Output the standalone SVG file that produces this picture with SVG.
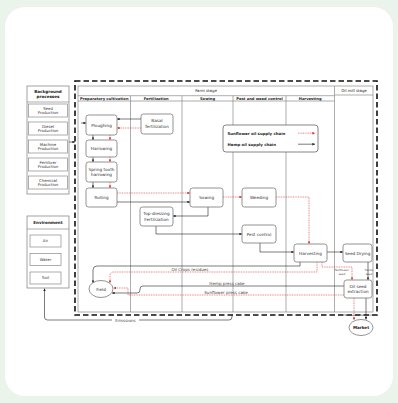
<svg xmlns="http://www.w3.org/2000/svg" width="398" height="403" viewBox="0 0 398 403">
  <style>
    text { font-family: "DejaVu Sans", Verdana, sans-serif; fill: #333; text-anchor: middle; }
    .n { font-size: 4.2px; }
    .h { font-size: 3.7px; font-weight: bold; fill: #222; }
    .st { font-size: 3.9px; fill: #222; }
    .b { font-size: 4.1px; font-weight: bold; fill: #222; }
    .bl { font-size: 3.9px; }
    .lb { font-size: 4.1px; fill: #444; }
    .sm { font-size: 2.8px; fill: #444; }
    .lg { font-size: 3.9px; font-weight: bold; fill: #222; text-anchor: start; }
    .nd { fill: #fff; stroke: #777; stroke-width: 0.8; }
    .bx { fill: #fff; stroke: #8a8a8a; stroke-width: 0.7; }
    .ob { fill: #fff; stroke: #8a8a8a; stroke-width: 0.8; }
    .grid { stroke: #8a8a8a; stroke-width: 0.7; fill: none; }
    .hemp { fill: none; stroke: #222; stroke-width: 0.6; }
    .sun { fill: none; stroke: #d42020; stroke-width: 0.6; stroke-dasharray: 0.9 0.8; }
  </style>
  <defs>
    <marker id="ab" viewBox="0 0 6 6" refX="6" refY="3" markerWidth="2.6" markerHeight="2.6" markerUnits="userSpaceOnUse" orient="auto">
      <path d="M0,0 L6,3 L0,6 z" fill="#222"/>
    </marker>
    <marker id="ar" viewBox="0 0 6 6" refX="6" refY="3" markerWidth="2.6" markerHeight="2.6" markerUnits="userSpaceOnUse" orient="auto">
      <path d="M0,0 L6,3 L0,6 z" fill="#d42020"/>
    </marker>
  </defs>

  <!-- card -->
  <rect x="0" y="0" width="398" height="403" fill="#eaf4ea"/>
  <rect x="5" y="7" width="388" height="389" rx="20" fill="#fff"/>

  <!-- background processes -->
  <g id="background">
    <rect class="ob" x="27" y="86" width="42" height="108"/>
    <line class="grid" x1="27" y1="102" x2="69" y2="102"/>
    <text class="b" x="48" y="92.5">Background</text>
    <text class="b" x="48" y="98.3">processes</text>
    <rect class="bx" x="28.5" y="104" width="39" height="13"/>
    <text class="bl" x="48" y="109.6">Seed</text><text class="bl" x="48" y="114.4">Production</text>
    <rect class="bx" x="28.5" y="122" width="39" height="13"/>
    <text class="bl" x="48" y="127.6">Diesel</text><text class="bl" x="48" y="132.4">Production</text>
    <rect class="bx" x="28.5" y="140" width="39" height="13"/>
    <text class="bl" x="48" y="145.6">Machine</text><text class="bl" x="48" y="150.4">Production</text>
    <rect class="bx" x="28.5" y="158" width="39" height="13"/>
    <text class="bl" x="48" y="163.6">Fertilizer</text><text class="bl" x="48" y="168.4">Production</text>
    <rect class="bx" x="28.5" y="176" width="39" height="13"/>
    <text class="bl" x="48" y="181.6">Chemical</text><text class="bl" x="48" y="186.4">Production</text>
  </g>

  <!-- environment -->
  <g id="environment">
    <rect class="ob" x="27" y="216" width="42" height="72"/>
    <line class="grid" x1="27" y1="229" x2="69" y2="229"/>
    <text class="b" x="48" y="224.2">Environment</text>
    <rect class="bx" x="30" y="235" width="31" height="12"/>
    <text class="bl" x="45.5" y="242.4">Air</text>
    <rect class="bx" x="30" y="253.5" width="31" height="12"/>
    <text class="bl" x="45.5" y="260.9">Water</text>
    <rect class="bx" x="30" y="272" width="31" height="12"/>
    <text class="bl" x="45.5" y="279.4">Soil</text>
  </g>

  <!-- stage table -->
  <g id="stages">
    <rect x="75" y="81" width="302" height="234" fill="none" stroke="#111" stroke-width="1.6" stroke-dasharray="5.5 3"/>
    <rect class="grid" x="78" y="86" width="295" height="226"/>
    <line class="grid" x1="78" y1="95.7" x2="334.5" y2="95.7"/>
    <line class="grid" x1="78" y1="101" x2="334.5" y2="101"/>
    <line class="grid" x1="334.5" y1="95" x2="373" y2="95"/>
    <line class="grid" x1="334.5" y1="86" x2="334.5" y2="312"/>
    <line class="grid" x1="130.5" y1="95.7" x2="130.5" y2="312"/>
    <line class="grid" x1="182" y1="95.7" x2="182" y2="312"/>
    <line class="grid" x1="233" y1="95.7" x2="233" y2="312"/>
    <line class="grid" x1="286" y1="95.7" x2="286" y2="312"/>
    <text class="st" x="206" y="92.3">Farm stage</text>
    <text class="st" x="354" y="92">Oil mill stage</text>
    <text class="h" x="104.3" y="99.7">Preparatory cultivation</text>
    <text class="h" x="156.2" y="99.7">Fertilization</text>
    <text class="h" x="207.5" y="99.7">Sowing</text>
    <text class="h" x="259.5" y="99.7">Pest and weed control</text>
    <text class="h" x="310.2" y="99.7">Harvesting</text>
  </g>

  <!-- legend -->
  <g id="legend">
    <rect x="223" y="125" width="95" height="27" rx="3" fill="#fff" stroke="#666" stroke-width="0.8"/>
    <text class="lg" x="227.5" y="134.5">Sunflower oil supply chain</text>
    <text class="lg" x="227.5" y="145.5">Hemp oil supply chain</text>
    <line class="sun" x1="298" y1="133.2" x2="315" y2="133.2" marker-end="url(#ar)"/>
    <line class="hemp" x1="298" y1="144.2" x2="315" y2="144.2" marker-end="url(#ab)"/>
  </g>

  <!-- connectors -->
  <g id="connectors">
    <!-- hemp oil chain -->
    <path class="hemp" d="M69,142 H75" marker-end="url(#ab)"/>
    <path class="hemp" d="M81,123 H86" marker-end="url(#ab)"/>
    <path class="hemp" d="M141,119 H117" marker-end="url(#ab)"/>
    <path class="hemp" d="M93,135 V140" marker-end="url(#ab)"/>
    <path class="hemp" d="M93,157 V162" marker-end="url(#ab)"/>
    <path class="hemp" d="M93,182 V188" marker-end="url(#ab)"/>
    <path class="hemp" d="M117,202 H190" marker-end="url(#ab)"/>
    <path class="hemp" d="M208,207 V216 H173" marker-end="url(#ab)"/>
    <path class="hemp" d="M156,226 V234 H242" marker-end="url(#ab)"/>
    <path class="hemp" d="M260,243 V252 H294" marker-end="url(#ab)"/>
    <path class="hemp" d="M327,252 H343" marker-end="url(#ab)"/>
    <path class="hemp" d="M368,262 V280" marker-end="url(#ab)"/>
    <path class="hemp" d="M300,262 V266 H97 Q93,266 93,270 V283" marker-end="url(#ab)"/>
    <path class="hemp" d="M344,286 H143 Q140,286 140,289 V290 Q140,293 137,293 H112" marker-end="url(#ab)"/>
    <path class="hemp" d="M366,298 V319.5" marker-end="url(#ab)"/>
    <path class="hemp" d="M232,315 V317 Q232,320 229,320 H47.5 Q44.5,320 44.5,317 V288.5" marker-end="url(#ab)"/>
    <!-- sunflower oil chain -->
    <path class="sun" d="M141,128 H117" marker-end="url(#ar)"/>
    <path class="sun" d="M110,135 V140" marker-end="url(#ar)"/>
    <path class="sun" d="M110,157 V162" marker-end="url(#ar)"/>
    <path class="sun" d="M110,182 V188" marker-end="url(#ar)"/>
    <path class="sun" d="M117,193 H190" marker-end="url(#ar)"/>
    <path class="sun" d="M223,197 H242" marker-end="url(#ar)"/>
    <path class="sun" d="M276,197 H309 V244" marker-end="url(#ar)"/>
    <path class="sun" d="M317,262 V272 H114 Q110,272 110,276 V283" marker-end="url(#ar)"/>
    <path class="sun" d="M322,262 V267 H352 V280" marker-end="url(#ar)"/>
    <path class="sun" d="M344,295 H128 V288 H113.5" marker-end="url(#ar)"/>
    <path class="sun" d="M354,298 V320" marker-end="url(#ar)"/>
    <!-- flow labels -->
    <text class="lb" x="190" y="270.6">Oil Crops residues</text>
    <text class="lb" x="227" y="285.4">Hemp press cake</text>
    <text class="lb" x="226" y="294.4">Sunflower press cake</text>
    <text class="sm" x="342" y="270.8">Sunflower</text>
    <text class="sm" x="342" y="274.6">seed</text>
    <text class="sm" x="369" y="270.8">Hemp</text>
    <text class="sm" x="369" y="274.6">seed</text>
    <text class="sm" x="358" y="316.3">Sunflower/Hemp oil</text>
    <rect x="112" y="318.5" width="27" height="4.5" fill="#fff"/>
    <text class="lb" x="125.5" y="322.3">Emissions</text>
  </g>

  <!-- farm and mill processes -->
  <g id="ploughing"><rect class="nd" x="86" y="115" width="31" height="20" rx="2.5"/><text class="n" x="101.5" y="126.5">Ploughing</text></g>
  <g id="harrowing"><rect class="nd" x="86" y="140" width="31" height="17" rx="2.5"/><text class="n" x="101.5" y="150">Harrowing</text></g>
  <g id="spring-tooth"><rect class="nd" x="86" y="162" width="31" height="20" rx="2.5"/><text class="n" x="101.5" y="170.6">Spring tooth</text><text class="n" x="101.5" y="175.8">harrowing</text></g>
  <g id="rolling"><rect class="nd" x="86" y="188" width="31" height="19" rx="2.5"/><text class="n" x="101.5" y="199">Rolling</text></g>
  <g id="basal"><rect class="nd" x="141" y="114" width="32" height="20" rx="2.5"/><text class="n" x="157" y="122.4">Basal</text><text class="n" x="157" y="127.6">fertilization</text></g>
  <g id="topdressing"><rect class="nd" x="140" y="207" width="33" height="19" rx="2.5"/><text class="n" x="156.5" y="215.3">Top-dressing</text><text class="n" x="156.5" y="220.5">Fertilization</text></g>
  <g id="sowing"><rect class="nd" x="190" y="188" width="33" height="19" rx="2.5"/><text class="n" x="206.5" y="199">Sowing</text></g>
  <g id="weeding"><rect class="nd" x="242" y="188" width="34" height="19" rx="2.5"/><text class="n" x="259" y="199">Weeding</text></g>
  <g id="pest-control"><rect class="nd" x="242" y="225" width="34" height="18" rx="2.5"/><text class="n" x="259" y="235.5">Pest control</text></g>
  <g id="harvesting"><rect class="nd" x="294" y="244" width="33" height="18" rx="2.5"/><text class="n" x="310.5" y="254.5">Harvesting</text></g>
  <g id="seed-drying"><rect class="nd" x="343" y="244" width="29" height="18" rx="2.5"/><text class="n" x="357.5" y="254.5">Seed Drying</text></g>
  <g id="extraction"><rect class="nd" x="344" y="280" width="28" height="18" rx="2.5"/><text class="n" x="358" y="287.8">Oil seed</text><text class="n" x="358" y="293">extraction</text></g>
  <g id="field"><ellipse cx="101" cy="289" rx="12" ry="8.5" fill="#fff" stroke="#777" stroke-width="0.8"/><text class="n" x="101" y="290.5">Field</text></g>
  <g id="market"><ellipse cx="361" cy="327.5" rx="12" ry="8" fill="#fff" stroke="#777" stroke-width="0.8"/><text class="b" x="361" y="329">Market</text></g>
</svg>
